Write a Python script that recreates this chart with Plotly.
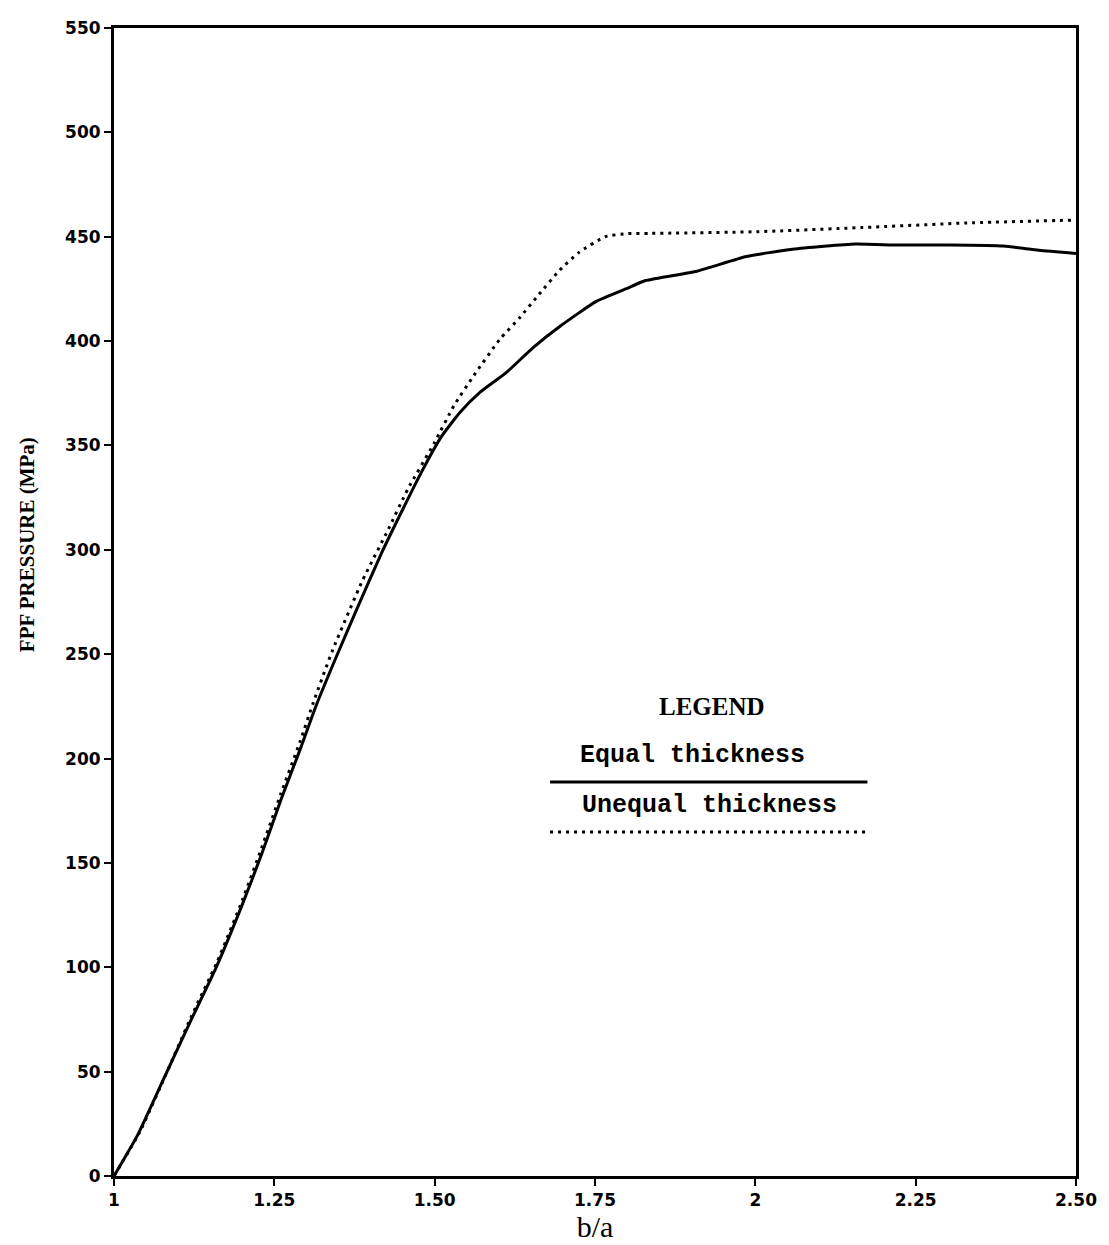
import plotly.graph_objects as go

# b/a ratio and first-ply-failure pressure (MPa) for the two wall designs
ratio_equal = [1.0, 1.037, 1.078, 1.119, 1.159, 1.200, 1.230, 1.260, 1.291, 1.316,
               1.347, 1.382, 1.418, 1.448, 1.479, 1.510, 1.540, 1.571, 1.612, 1.654,
               1.695, 1.752, 1.798, 1.829, 1.909, 1.986, 2.058, 2.156, 2.222, 2.304,
               2.387, 2.442, 2.500]
fpf_equal = [0, 19.7, 46.9, 74, 99.7, 130, 154, 180, 205, 226,
             249, 274, 299, 318, 337, 354, 366, 375.5, 385, 397,
             407, 419, 425, 429, 433.5, 440.5, 444, 446.5, 446, 446,
             445.5, 443.5, 442]

ratio_unequal = [1.0, 1.04, 1.08, 1.12, 1.16, 1.20, 1.23, 1.26, 1.29, 1.311,
                 1.341, 1.387, 1.428, 1.458, 1.499, 1.530, 1.561, 1.602, 1.632, 1.663,
                 1.694, 1.725, 1.766, 1.800, 1.837, 2.002, 2.167, 2.330, 2.500]
fpf_unequal = [0, 21, 48, 76, 102, 132, 157, 183, 208, 227,
               252, 285, 310, 329, 351, 369, 383.5, 401, 411, 422.5,
               433.7, 442.5, 450, 451.5, 451.6, 452.4, 454.4, 456.6, 458]

x_ticks = [1, 1.25, 1.5, 1.75, 2, 2.25, 2.5]
x_tick_labels = ["1", "1.25", "1.50", "1.75", "2", "2.25", "2.50"]
y_ticks = [0, 50, 100, 150, 200, 250, 300, 350, 400, 450, 500, 550]
y_tick_labels = [str(v) for v in y_ticks]

series_names = ["Equal thickness", "Unequal thickness"]

tick_font = dict(family="DejaVu Sans", size=17, color="black", weight="bold")
serif = "Liberation Serif"
mono = "Liberation Mono"

fig = go.Figure()
fig.add_trace(go.Scatter(
    x=ratio_equal, y=fpf_equal, mode="lines", name=series_names[0],
    line=dict(color="black", width=3, shape="spline", smoothing=0.5),
))
fig.add_trace(go.Scatter(
    x=ratio_unequal, y=fpf_unequal, mode="lines", name=series_names[1],
    line=dict(color="black", width=3, dash="3px,5px", shape="spline", smoothing=0.5),
))

axis_common = dict(
    showline=True, linecolor="black", linewidth=3, mirror=True,
    ticks="outside", ticklen=7, tickwidth=2, tickcolor="black",
    showgrid=False, zeroline=False, tickfont=tick_font,
)

fig.update_layout(
    width=1109, height=1245,
    margin=dict(l=114, r=31, t=28, b=69),
    paper_bgcolor="white", plot_bgcolor="white",
    showlegend=False,
    xaxis=dict(
        range=[1, 2.5], tickmode="array", tickvals=x_ticks, ticktext=x_tick_labels,
        title=dict(text="b/a", font=dict(family=serif, size=30, color="black"), standoff=2),
        **axis_common,
    ),
    yaxis=dict(
        range=[0, 550], tickmode="array", tickvals=y_ticks, ticktext=y_tick_labels,
        **axis_common,
    ),
)

# Y axis title, placed beside the tick labels
fig.add_annotation(x=-0.0902, y=0.5497, xref="paper", yref="paper",
                   text="FPF PRESSURE (MPa)", textangle=-90, showarrow=False,
                   xanchor="center", yanchor="middle",
                   font=dict(family=serif, size=21, color="black", weight="bold"))

# In-plot legend block: heading, labels with long line samples beneath them
fig.add_annotation(x=0.6214, y=0.4094, xref="paper", yref="paper", text="LEGEND",
                   showarrow=False, xanchor="center", yanchor="middle",
                   font=dict(family=serif, size=25, color="black", weight="bold"))
fig.add_annotation(x=0.6017, y=0.3659, xref="paper", yref="paper", text=series_names[0],
                   showarrow=False, xanchor="center", yanchor="middle",
                   font=dict(family=mono, size=25, color="black", weight="bold"))
fig.add_annotation(x=0.6193, y=0.3223, xref="paper", yref="paper", text=series_names[1],
                   showarrow=False, xanchor="center", yanchor="middle",
                   font=dict(family=mono, size=25, color="black", weight="bold"))
fig.add_shape(type="line", xref="paper", yref="paper", x0=0.4533, x1=0.7832,
              y0=0.3432, y1=0.3432, line=dict(color="black", width=3))
fig.add_shape(type="line", xref="paper", yref="paper", x0=0.4533, x1=0.7832,
              y0=0.2997, y1=0.2997, line=dict(color="black", width=3, dash="3px,5px"))

fig.write_html("out.html")
